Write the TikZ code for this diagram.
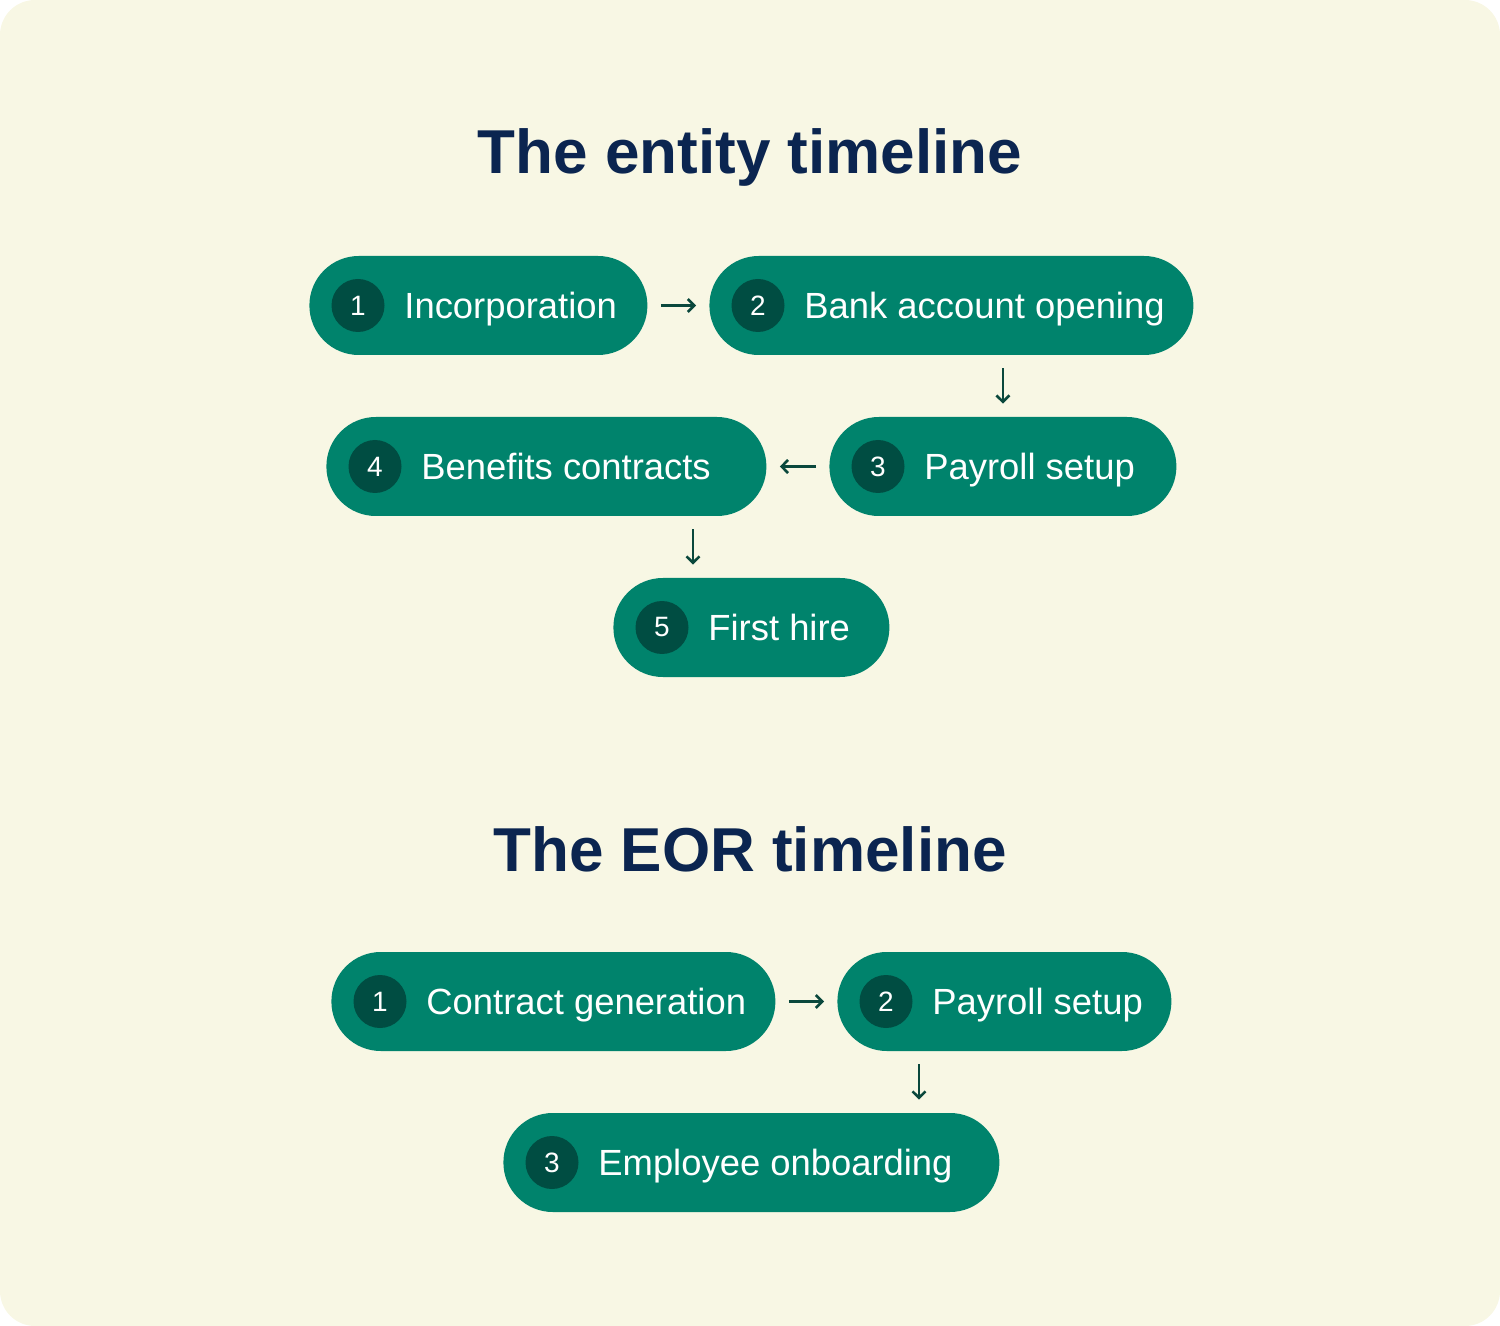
\documentclass[tikz,border=0pt]{standalone}
\usepackage{fontspec}
\setmainfont{Liberation Sans}
\usetikzlibrary{arrows.meta}

\definecolor{paper}{RGB}{248,247,228}
\definecolor{pillgreen}{RGB}{0,131,108}
\definecolor{numgreen}{RGB}{0,77,66}
\definecolor{arrowgreen}{RGB}{10,72,60}
\definecolor{titleblue}{RGB}{11,37,80}

\tikzset{
  pill/.style={fill=pillgreen, rounded corners=24.7pt, minimum height=49.5pt, inner sep=0pt, anchor=west},
  numdot/.style={circle, fill=numgreen, minimum size=26.5pt, inner sep=0pt, text=white, font=\fontsize{14}{15}\selectfont},
  pilltext/.style={anchor=base west, inner sep=0pt, text=white, font=\fontsize{18.2}{20}\selectfont},
  heading/.style={anchor=base, inner sep=0pt, text=titleblue, font=\fontsize{31}{34}\selectfont\bfseries},
  flow/.style={arrowgreen, line width=1.3pt, -{Straight Barb[length=3.2pt,width=6.5pt,line width=1.3pt]}, shorten >=6.5pt, shorten <=6.5pt}
}

% step pill: name, number, left x, centre y, width, text
\newcommand{\steppill}[6]{
  \node[pill, minimum width=#5*0.5pt] (#1) at (#3,#4) {};
  \node[numdot] (#1n) at ({#3+49},#4) {#2};
  \node[pilltext] (#1t) at ({#3+95},{#4+13}) {#6};
}

\begin{document}
\begin{tikzpicture}[x=0.5pt,y=-0.5pt]
\fill[paper, rounded corners=17.5pt] (0,0) rectangle (1500,1326);
\useasboundingbox (0,0) rectangle (1500,1326);

% entity timeline
\node[heading] (entitytitle) at (750,174) {The entity timeline};
\steppill{inc}{1}{309}{305.5}{338}{Incorporation}
\steppill{bank}{2}{709}{305.5}{484}{Bank account opening}
\steppill{pay}{3}{829}{466.5}{347}{Payroll setup}
\steppill{ben}{4}{326}{466.5}{440}{Benefits contracts}
\steppill{hire}{5}{613}{627.5}{276}{First hire}
\draw[flow] (inc) -- (bank);
\draw[flow] (bank.south -| pay.north) -- (pay.north);
\draw[flow] (pay) -- (ben);
\draw[flow] (ben.south -| 693,0) -- (hire.north -| 693,0);

% EOR timeline
\node[heading] (eortitle) at (750,871) {The EOR timeline};
\steppill{con}{1}{331}{1001.5}{444}{Contract generation}
\steppill{eorpay}{2}{837}{1001.5}{334}{Payroll setup}
\steppill{onb}{3}{503}{1162.5}{496}{Employee onboarding}
\draw[flow] (con) -- (eorpay);
\draw[flow] (eorpay.south -| 919,0) -- (onb.north -| 919,0);
\end{tikzpicture}
\end{document}
